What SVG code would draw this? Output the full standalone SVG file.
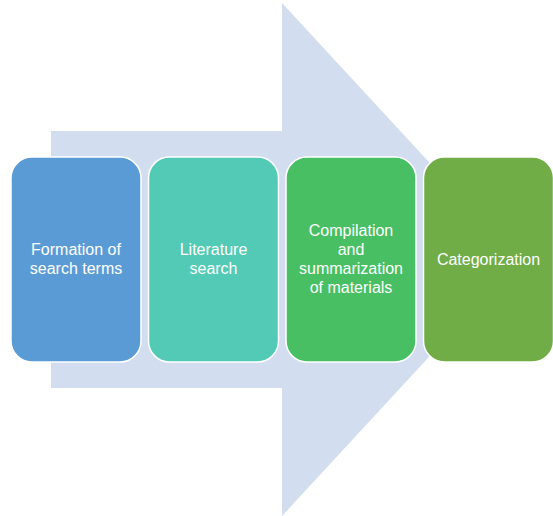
<svg xmlns="http://www.w3.org/2000/svg" width="553" height="516" viewBox="0 0 553 516">
<style>
.box{stroke:#ffffff;stroke-width:1.5}
.t{font-family:"Liberation Sans",Arial,sans-serif;font-size:16px;fill:#ffffff;text-anchor:middle}
</style>
<rect width="553" height="516" fill="#ffffff"/>
<g id="arrow">
<polygon points="51,131 282,131 282,3 519,259.5 282,516 282,388 51,388" fill="#D2DDEF"/>
</g>
<g id="connectors"></g>
<g id="n1">
<rect class="box" x="11" y="157" width="130" height="205" rx="21" fill="#5B9BD5"/>
<text class="t" x="76" y="255">Formation of</text>
<text class="t" x="76" y="274">search terms</text>
</g>
<g id="n2">
<rect class="box" x="148.5" y="157" width="130" height="205" rx="21" fill="#53CAB5"/>
<text class="t" x="213.5" y="255">Literature</text>
<text class="t" x="213.5" y="274">search</text>
</g>
<g id="n3">
<rect class="box" x="286" y="157" width="130" height="205" rx="21" fill="#48BF63"/>
<text class="t" x="351" y="236">Compilation</text>
<text class="t" x="351" y="255">and</text>
<text class="t" x="351" y="274">summarization</text>
<text class="t" x="351" y="293">of materials</text>
</g>
<g id="n4">
<rect class="box" x="423.5" y="157" width="130" height="205" rx="21" fill="#70AD47"/>
<text class="t" x="488.5" y="264.5">Categorization</text>
</g>
</svg>
